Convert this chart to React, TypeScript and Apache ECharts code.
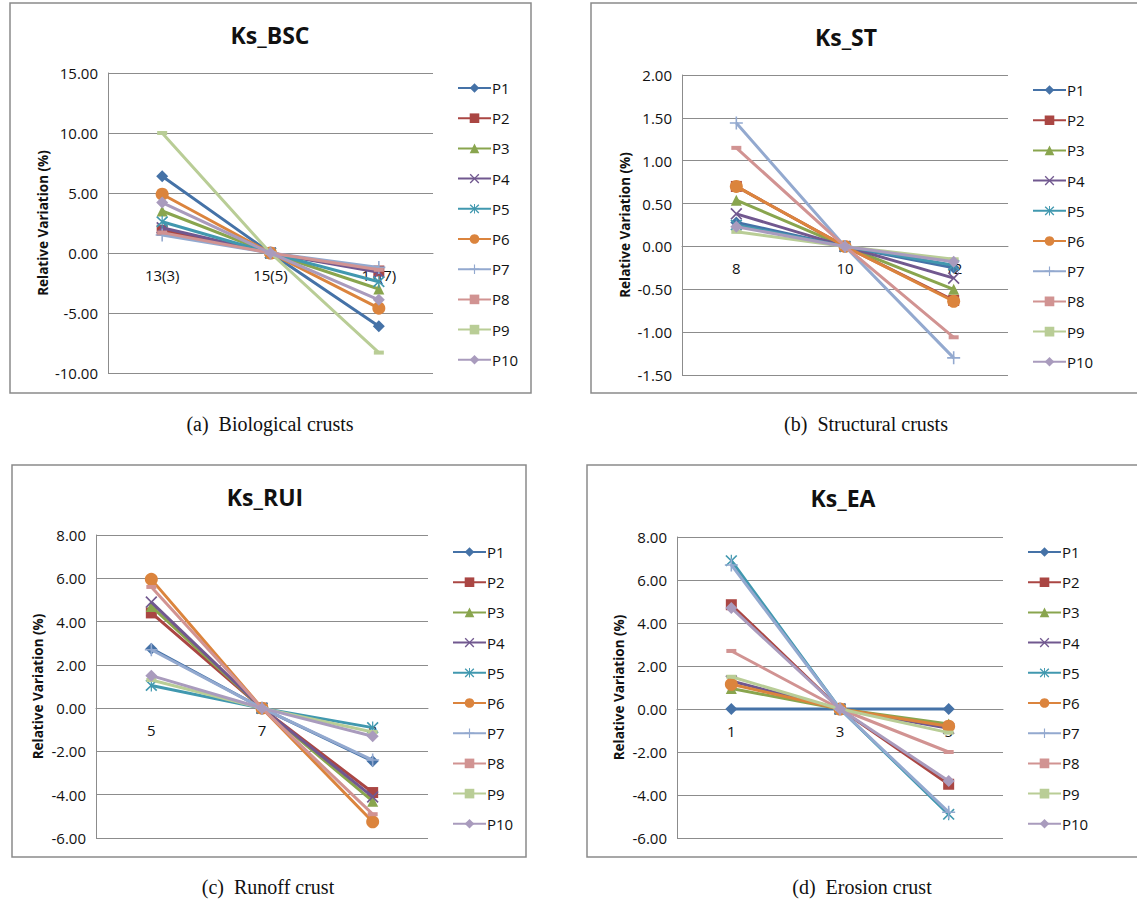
import React, { useEffect, useRef } from "react";
import * as echarts from "echarts";

const seriesNames = ["P1", "P2", "P3", "P4", "P5", "P6", "P7", "P8", "P9", "P10"];
const colors = ["#4572A7", "#AA4643", "#89A54E", "#71588F", "#4198AF", "#DB843D", "#93A9CF", "#D19392", "#B9CD96", "#A99BBD"];

const bscCategories = ["13(3)", "15(5)", "17(7)"];
const stCategories = ["8", "10", "12"];
const ruiCategories = ["5", "7", "9"];
const eaCategories = ["1", "3", "5"];

// rows: P1..P10, columns: the three categories
const bscValues = [
  [6.4, 0, -6.1],
  [1.9, 0, -1.5],
  [3.5, 0, -3.0],
  [2.1, 0, -1.6],
  [2.6, 0, -2.4],
  [4.9, 0, -4.6],
  [1.5, 0, -1.2],
  [1.7, 0, -1.4],
  [10.0, 0, -8.3],
  [4.2, 0, -3.9],
];
const stValues = [
  [0.28, 0, -0.25],
  [0.70, 0, -0.63],
  [0.54, 0, -0.50],
  [0.38, 0, -0.37],
  [0.25, 0, -0.22],
  [0.70, 0, -0.64],
  [1.44, 0, -1.30],
  [1.15, 0, -1.06],
  [0.17, 0, -0.15],
  [0.23, 0, -0.18],
];
const ruiValues = [
  [2.75, 0, -2.45],
  [4.4, 0, -3.9],
  [4.7, 0, -4.3],
  [4.9, 0, -4.1],
  [1.05, 0, -0.9],
  [5.95, 0, -5.25],
  [2.7, 0, -2.4],
  [5.6, 0, -4.9],
  [1.3, 0, -1.1],
  [1.5, 0, -1.3],
];
const eaValues = [
  [0, 0, 0],
  [4.85, 0, -3.5],
  [0.95, 0, -0.7],
  [1.3, 0, -0.9],
  [6.9, 0, -4.9],
  [1.15, 0, -0.8],
  [6.7, 0, -4.8],
  [2.7, 0, -2.0],
  [1.5, 0, -1.1],
  [4.7, 0, -3.35],
];

const bscTicks = { min: -10, max: 15, interval: 5 };
const stTicks = { min: -1.5, max: 2, interval: 0.5 };
const ruiTicks = { min: -6, max: 8, interval: 2 };
const eaTicks = { min: -6, max: 8, interval: 2 };

const titles = ["Ks_BSC", "Ks_ST", "Ks_RUI", "Ks_EA"];
const captions = ["(a)  Biological crusts", "(b)  Structural crusts", "(c)  Runoff crust", "(d)  Erosion crust"];
const yAxisName = "Relative Variation (%)";

const X_PATH =
  "path://M0,0.1L0.1,0L0.5,0.4L0.9,0L1,0.1L0.6,0.5L1,0.9L0.9,1L0.5,0.6L0.1,1L0,0.9L0.4,0.5Z";
const STAR_PATH =
  "path://M0,0.12L0.1,0.02L0.5,0.42L0.9,0.02L1,0.12L0.6,0.5L1,0.88L0.9,0.98L0.5,0.58L0.1,0.98L0,0.88L0.4,0.5Z M0.45,0H0.55V1H0.45Z";
const PLUS_PATH =
  "path://M0.44,0H0.56V0.44H1V0.56H0.56V1H0.44V0.56H0V0.44H0.44Z";

const symbols = ["diamond", "rect", "triangle", X_PATH, STAR_PATH, "circle", PLUS_PATH, "rect", "rect", "diamond"];
const symbolSizes: any[] = [12, 11, 11, 12, 12, 13, 13, [10, 4], [10, 4], 12];

const panels = [
  {
    cats: bscCategories, values: bscValues, ticks: bscTicks,
    grid: { left: 108, top: 73, width: 325, height: 300 },
    legend: { left: 457, top: 79 },
    title: [270, 35], caption: [270, 424], box: [10, 3, 521, 390], nameGap: 58,
  },
  {
    cats: stCategories, values: stValues, ticks: stTicks,
    grid: { left: 682, top: 75, width: 326, height: 300 },
    legend: { left: 1032, top: 81 },
    title: [846, 37], caption: [866, 424], box: [591, 3, 560, 390], nameGap: 50,
  },
  {
    cats: ruiCategories, values: ruiValues, ticks: ruiTicks,
    grid: { left: 96, top: 535, width: 332, height: 303 },
    legend: { left: 452, top: 543 },
    title: [265, 497], caption: [268, 887], box: [12, 465, 514, 392], nameGap: 51,
  },
  {
    cats: eaCategories, values: eaValues, ticks: eaTicks,
    grid: { left: 677, top: 537, width: 326, height: 301 },
    legend: { left: 1027, top: 543 },
    title: [843, 498], caption: [862, 887], box: [587, 465, 560, 392], nameGap: 51,
  },
];

const FONT = "'Open Sans', 'Noto Sans', sans-serif";

export default function App() {
  const ref = useRef<HTMLDivElement>(null);
  useEffect(() => {
    if (!ref.current) return;
    const chart = echarts.init(ref.current, undefined, { renderer: "svg" });
    const grid: any[] = [];
    const xAxis: any[] = [];
    const yAxis: any[] = [];
    const legend: any[] = [];
    const series: any[] = [];
    const graphic: any[] = [];
    panels.forEach((p, i) => {
      grid.push({ ...p.grid, containLabel: false });
      const zeroOffset = -p.grid.height * (0 - p.ticks.min) / (p.ticks.max - p.ticks.min);
      xAxis.push({
        type: "category",
        gridIndex: i,
        data: p.cats,
        boundaryGap: true,
        position: "bottom",
        offset: zeroOffset,
        axisLine: { show: true, onZero: false, lineStyle: { color: "#8c8c8c", width: 1 } },
        axisTick: { show: false },
        axisLabel: { color: "#111", fontFamily: FONT, fontSize: 15, margin: 14 },
        splitLine: { show: false },
        z: 1,
      });
      yAxis.push({
        type: "value",
        gridIndex: i,
        min: p.ticks.min,
        max: p.ticks.max,
        interval: p.ticks.interval,
        name: yAxisName,
        nameLocation: "middle",
        nameGap: p.nameGap,
        nameRotate: 90,
        nameTextStyle: { fontFamily: FONT, fontWeight: "bold", fontSize: 13.5, color: "#111" },
        axisLine: { show: true, lineStyle: { color: "#8c8c8c", width: 1 } },
        axisTick: { show: false },
        axisLabel: {
          color: "#111", fontFamily: FONT, fontSize: 15, margin: 10,
          formatter: (v: number) => v.toFixed(2),
        },
        splitLine: { show: true, lineStyle: { color: "#8c8c8c", width: 1 } },
      });
      legend.push({
        orient: "vertical",
        left: p.legend.left,
        top: p.legend.top + 1,
        padding: 0,
        itemWidth: 33,
        itemHeight: 12,
        itemGap: 14.2,
        selectedMode: false,
        data: seriesNames,
        textStyle: { fontFamily: FONT, fontSize: 15, color: "#111", lineHeight: 16, padding: [0, 0, 0, -4] },
      });
      seriesNames.forEach((name, k) => {
        series.push({
          type: "line",
          name,
          xAxisIndex: i,
          yAxisIndex: i,
          data: p.values[k],
          symbol: symbols[k],
          symbolSize: symbolSizes[k],
          showSymbol: true,
          color: colors[k],
          lineStyle: { width: 3, color: colors[k] },
          itemStyle: { color: colors[k] },
          z: 2 + k * 0.01,
        });
      });
      graphic.push({
        type: "rect",
        shape: { x: p.box[0], y: p.box[1], width: p.box[2], height: p.box[3] },
        style: { fill: "none", stroke: "#8a8a8a", lineWidth: 1.5 },
        silent: true,
        z: -1,
      });
      graphic.push({
        type: "text",
        x: p.title[0],
        y: p.title[1],
        style: {
          text: titles[i],
          font: `bold 23px ${FONT}`,
          fill: "#111",
          textAlign: "center",
          textVerticalAlign: "middle",
        },
      });
      graphic.push({
        type: "text",
        x: p.caption[0],
        y: p.caption[1],
        style: {
          text: captions[i],
          font: "20px 'Liberation Serif', 'DejaVu Serif', serif",
          fill: "#111",
          textAlign: "center",
          textVerticalAlign: "middle",
        },
      });
    });
    chart.setOption({
      animation: false,
      backgroundColor: "#ffffff",
      grid,
      xAxis,
      yAxis,
      legend,
      series,
      graphic,
    });
    return () => chart.dispose();
  }, []);
  return (
    <div
      ref={ref}
      style={{ position: "absolute", left: 0, top: 0, width: 1137, height: 903 }}
    />
  );
}
